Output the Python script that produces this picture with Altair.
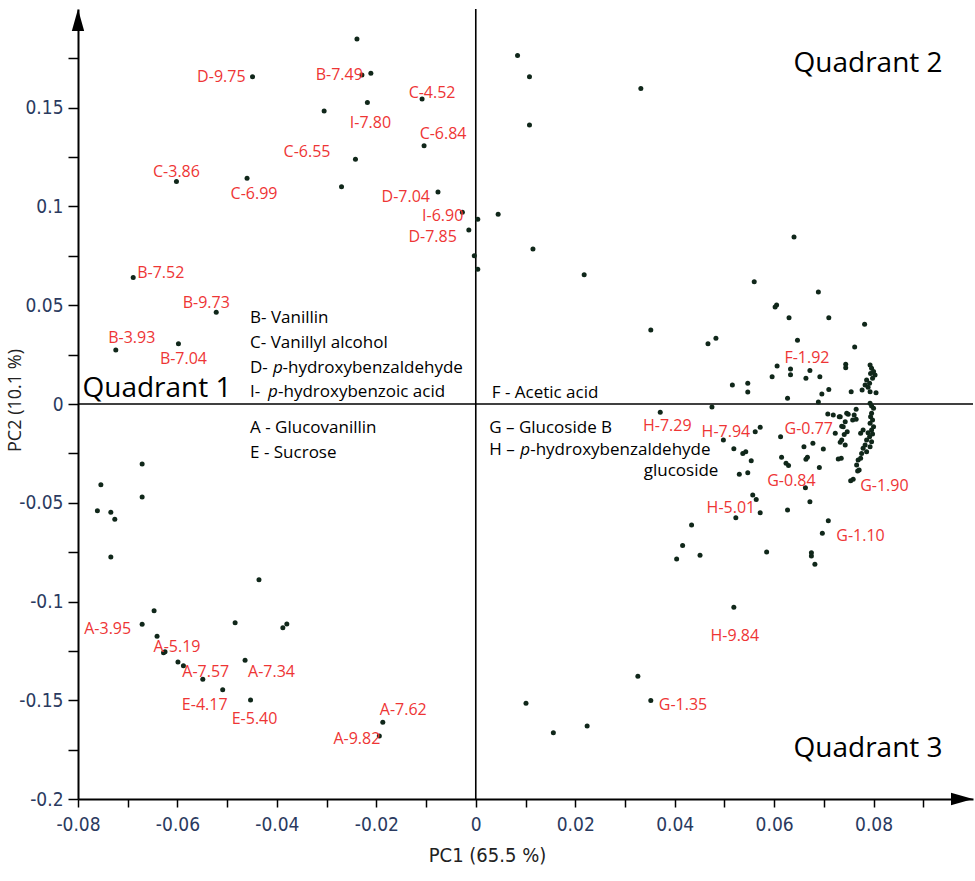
import altair as alt
import pandas as pd

# ---------------- data (PC1, PC2 scores) ----------------
LAB_NAMES = ["D-9.75", "B-7.49", "I-7.80", "C-4.52", "C-6.84", "C-6.55", "C-3.86",
             "C-6.99", "D-7.04", "I-6.90", "D-7.85", "B-7.52", "B-9.73", "B-3.93",
             "B-7.04", "F-1.92", "H-7.29", "H-7.94", "G-0.77", "G-0.84", "G-1.90",
             "H-5.01", "G-1.10", "H-9.84", "G-1.35", "A-3.95", "A-5.19", "A-7.57",
             "A-7.34", "E-4.17", "E-5.40", "A-7.62", "A-9.82"]
LAB_PC1 = [-0.0449, -0.0211, -0.0218, -0.0108, -0.0104, -0.0242, -0.0602,
           -0.0460, -0.0076, -0.0027, -0.0014, -0.0689, -0.0522, -0.0724,
           -0.0598, 0.0672, 0.0371, 0.0562, 0.0613, 0.0663, 0.0759,
           0.0572, 0.0697, 0.0519, 0.0352, -0.0671, -0.0641, -0.0549,
           -0.0464, -0.0509, -0.0453, -0.0187, -0.0194]
LAB_PC2 = [0.1657, 0.1675, 0.1526, 0.1544, 0.1308, 0.1239, 0.1126,
           0.1143, 0.1073, 0.0971, 0.0881, 0.0641, 0.0464, 0.0273,
           0.0305, 0.0169, -0.0042, -0.0140, -0.0166, -0.0424, -0.0381,
           -0.0550, -0.0655, -0.1029, -0.1501, -0.1115, -0.1176, -0.1394,
           -0.1298, -0.1447, -0.1499, -0.1612, -0.1681]

UPPER_PC1 = [-0.0239, -0.0229, -0.0305, -0.0270, 0.0004, -0.0003, 0.0004, 0.0045,
             0.0084, 0.0108, 0.0332, 0.0108, 0.0115, 0.0218, 0.0640, 0.0560, 0.0689,
             0.0352, 0.0605, 0.0602, 0.0630, 0.0710, 0.0782, 0.0483, 0.0467, 0.0647,
             0.0762, 0.0606, 0.0633, 0.0633, 0.0596, 0.0664, 0.0692, 0.0744, 0.0744,
             0.0516, 0.0547, 0.0547, 0.0710, 0.0696, 0.0755, 0.0777, 0.0627, 0.0689]
UPPER_PC2 = [0.1848, 0.1666, 0.1484, 0.1100, 0.0935, 0.0751, 0.0682, 0.0961,
             0.1764, 0.1657, 0.1597, 0.1413, 0.0785, 0.0655, 0.0846, 0.0619, 0.0567,
             0.0375, 0.0501, 0.0491, 0.0437, 0.0437, 0.0404, 0.0333, 0.0305, 0.0323,
             0.0289, 0.0192, 0.0177, 0.0148, 0.0138, 0.0130, 0.0138, 0.0201, 0.0184,
             0.0096, 0.0105, 0.0061, 0.0074, 0.0051, 0.0062, 0.0071, 0.0029, 0.0010]

COLUMN_PC1 = [0.0793, 0.0796, 0.0800, 0.0794, 0.0803, 0.0798, 0.0786, 0.0792, 0.0783,
              0.0789, 0.0793, 0.0805, 0.0793, 0.0796, 0.0800, 0.0765, 0.0746, 0.0761,
              0.0758, 0.0796, 0.0794, 0.0798, 0.0793, 0.0800, 0.0796, 0.0789, 0.0779,
              0.0774, 0.0798, 0.0792, 0.0786, 0.0796, 0.0783, 0.0779, 0.0793, 0.0776,
              0.0786, 0.0774, 0.0769, 0.0766, 0.0771, 0.0733, 0.0743, 0.0739, 0.0747,
              0.0736, 0.0743, 0.0735, 0.0754, 0.0768]
COLUMN_PC2 = [0.0197, 0.0181, 0.0164, 0.0155, 0.0147, 0.0130, 0.0122, 0.0105, 0.0096,
              0.0085, 0.0062, 0.0057, 0.0004, -0.0010, -0.0022, -0.0027, -0.0047, -0.0056,
              -0.0081, -0.0047, -0.0064, -0.0081, -0.0098, -0.0115, -0.0132, -0.0145, -0.0132,
              -0.0148, -0.0152, -0.0166, -0.0182, -0.0191, -0.0208, -0.0224, -0.0216, -0.0250,
              -0.0242, -0.0275, -0.0284, -0.0309, -0.0334, -0.0064, -0.0090, -0.0115, -0.0140,
              -0.0182, -0.0208, -0.0275, -0.0388, -0.0339]

LOWER_RIGHT_PC1 = [0.0475, 0.0708, 0.0719, 0.0731, 0.0749, 0.0765, 0.0572, 0.0736, 0.0723,
                   0.0741, 0.0733, 0.0660, 0.0678, 0.0699, 0.0498, 0.0519, 0.0537, 0.0543,
                   0.0554, 0.0530, 0.0547, 0.0615, 0.0664, 0.0667, 0.0624, 0.0629, 0.0691,
                   0.0729, 0.0557, 0.0564, 0.0523, 0.0627, 0.0672, 0.0709, 0.0434, 0.0416,
                   0.0451, 0.0404, 0.0585, 0.0675, 0.0675, 0.0682, 0.0326, 0.0101, 0.0156,
                   0.0224]
LOWER_RIGHT_PC2 = [-0.0015, -0.0051, -0.0056, -0.0064, -0.0052, -0.0077, -0.0118, -0.0113, -0.0148,
                   -0.0155, -0.0194, -0.0216, -0.0199, -0.0228, -0.0182, -0.0226, -0.0250, -0.0242,
                   -0.0287, -0.0356, -0.0348, -0.0270, -0.0280, -0.0270, -0.0300, -0.0312, -0.0321,
                   -0.0278, -0.0461, -0.0483, -0.0576, -0.0537, -0.0495, -0.0591, -0.0613, -0.0716,
                   -0.0766, -0.0785, -0.0749, -0.0753, -0.0770, -0.0812, -0.1379, -0.1515, -0.1664,
                   -0.1630]

LOWER_LEFT_PC1 = [-0.0671, -0.0754, -0.0671, -0.0761, -0.0734, -0.0726, -0.0734, -0.0436,
                  -0.0647, -0.0484, -0.0380, -0.0388, -0.0628, -0.0625, -0.0599, -0.0588]
LOWER_LEFT_PC2 = [-0.0304, -0.0409, -0.0471, -0.0540, -0.0548, -0.0584, -0.0775, -0.0890,
                  -0.1047, -0.1107, -0.1114, -0.1133, -0.1259, -0.1254, -0.1306, -0.1325]

X_TICKS = [-0.08, -0.07, -0.06, -0.05, -0.04, -0.03, -0.02, -0.01, 0, 0.01, 0.02,
           0.03, 0.04, 0.05, 0.06, 0.07, 0.08, 0.09]
Y_TICKS = [-0.2, -0.175, -0.15, -0.125, -0.1, -0.075, -0.05, -0.025, 0, 0.025, 0.05,
           0.075, 0.1, 0.125, 0.15, 0.175]
X_DOMAIN = [-0.08, 0.1]
Y_DOMAIN = [-0.2, 0.2]

# annotation texts (anchor in PC units)
LEGEND_TEXT = ["B- Vanillin", "C- Vanillyl alcohol", "A - Glucovanillin", "E - Sucrose",
               "F - Acetic acid", "G \u2013 Glucoside B"]
LEGEND_PC1 = [-0.0454, -0.0454, -0.0454, -0.0454, 0.0032, 0.0027]
LEGEND_PC2 = [0.0409, 0.0282, -0.0148, -0.0275, 0.0029, -0.0145]

QUAD_TEXT = ["Quadrant 1", "Quadrant 2", "Quadrant 3"]
QUAD_PC1 = [-0.0791, 0.0639, 0.0639]
QUAD_PC2 = [0.0035, 0.1681, -0.1786]

# ---------------- styles / layout ----------------
RED = "#ee3535"
DOT = "#10271a"
FONT = "Open Sans"
NARROW = "Liberation Sans Narrow, DejaVu Sans Condensed, Liberation Sans"
TICK_COL = "#2a3a60"

LABEL_PLACE = {
    "D-9.75": ("right", -7, 0), "B-7.49": ("right", -8, 2), "I-7.80": ("center", 3, 20),
    "C-4.52": ("center", 10, -6), "C-6.84": ("center", 19, -12), "C-6.55": ("right", -25, -7),
    "C-3.86": ("center", 0, -10), "C-6.99": ("center", 7, 16), "D-7.04": ("right", -8, 5),
    "I-6.90": ("right", 1, 4), "D-7.85": ("right", -12, 7), "B-7.52": ("left", 4, -4),
    "B-9.73": ("center", -10, -9), "B-3.93": ("center", 16, -12), "B-7.04": ("center", 5, 15),
    "F-1.92": ("center", -3, -13), "H-7.29": ("center", 7, 14), "H-7.94": ("right", -5, 0),
    "G-0.77": ("left", 4, -8), "G-0.84": ("center", -14, -7), "G-1.90": ("left", 7, 7),
    "H-5.01": ("right", -5, -5), "G-1.10": ("left", 14, 3), "H-9.84": ("center", 1, 29),
    "G-1.35": ("left", 8, 5), "A-3.95": ("right", -11, 5), "A-5.19": ("center", 20, 11),
    "A-7.57": ("center", 3, -7), "A-7.34": ("left", 3, 12), "E-4.17": ("center", -18, 15),
    "E-5.40": ("center", 4, 19), "A-7.62": ("left", -3, -12), "A-9.82": ("right", 1, 3),
}

xaxis = alt.Axis(
    values=X_TICKS,
    labelExpr="round(datum.value*100) % 2 == 0 ? '' + datum.value : ''",
    grid=False, tickSize=8, tickWidth=1.5, tickColor="black",
    domainColor="black", domainWidth=2,
    labelFont=NARROW, labelFontSize=19, labelColor=TICK_COL, labelPadding=8,
    labelOverlap=False, labelFlush=False,
    title="PC1 (65.5 %)", titleFont=NARROW, titleFontSize=20, titleFontWeight="normal",
    titleColor="#222222", titleX=409, titleY=56, titleAlign="center", titleBaseline="middle",
)
yaxis = alt.Axis(
    values=Y_TICKS,
    labelExpr="round(datum.value*1000) % 50 == 0 ? '' + datum.value : ''",
    grid=False, tickSize=10, tickWidth=1.5, tickColor="black",
    domainColor="black", domainWidth=2,
    labelFont=NARROW, labelFontSize=19, labelColor=TICK_COL, labelPadding=5,
    labelOverlap=False, labelFlush=False,
    title="PC2 (10.1 %)", titleFont=FONT, titleFontSize=18, titleFontWeight="normal",
    titleColor="#222222", titleAngle=-90, titleX=-63, titleY=391,
    titleAlign="center", titleBaseline="middle",
)
xs = alt.Scale(domain=X_DOMAIN, nice=False, zero=False)
ys = alt.Scale(domain=Y_DOMAIN, nice=False, zero=False)


def X(field="pc1"):
    return alt.X(field, type="quantitative", scale=xs, axis=xaxis)


def Y(field="pc2"):
    return alt.Y(field, type="quantitative", scale=ys, axis=yaxis)


# ---------------- tables ----------------
labeled = pd.DataFrame({"pc1": LAB_PC1, "pc2": LAB_PC2, "label": LAB_NAMES})
others = pd.DataFrame({
    "pc1": UPPER_PC1 + COLUMN_PC1 + LOWER_RIGHT_PC1 + LOWER_LEFT_PC1,
    "pc2": UPPER_PC2 + COLUMN_PC2 + LOWER_RIGHT_PC2 + LOWER_LEFT_PC2,
})
points = pd.concat([labeled[["pc1", "pc2"]], others], ignore_index=True)

vline = pd.DataFrame({"pc1": [0], "pc2": [Y_DOMAIN[0]], "pc2_end": [Y_DOMAIN[1]]})
hline = pd.DataFrame({"pc1": [X_DOMAIN[0]], "pc1_end": [X_DOMAIN[1]], "pc2": [0]})
up_arrow = pd.DataFrame({"pc1": [X_DOMAIN[0]], "pc2": [Y_DOMAIN[1]]})
right_arrow = pd.DataFrame({"pc1": [X_DOMAIN[1]], "pc2": [Y_DOMAIN[0]]})

layers = []

layers.append(alt.Chart(vline).mark_rule(color="black", strokeWidth=1.6).encode(
    x=X(), y=Y(), y2="pc2_end"))
layers.append(alt.Chart(hline).mark_rule(color="black", strokeWidth=1.6).encode(
    x=X(), x2="pc1_end", y=Y()))

layers.append(alt.Chart(up_arrow).mark_point(
    shape="M0,0L-0.28,1L0.28,1Z", size=1936, filled=True, color="black", opacity=1
).encode(x=X(), y=Y()))
layers.append(alt.Chart(right_arrow).mark_point(
    shape="M0,0L-1,-0.28L-1,0.28Z", size=1936, filled=True, color="black", opacity=1
).encode(x=X(), y=Y()))

layers.append(alt.Chart(points).mark_circle(size=25, color=DOT, opacity=1).encode(
    x=X(), y=Y()))

for name in LAB_NAMES:
    align, dx, dy = LABEL_PLACE[name]
    layers.append(
        alt.Chart(labeled).transform_filter(alt.datum.label == name).mark_text(
            align=align, baseline="middle", dx=dx, dy=dy,
            font=FONT, fontSize=16, color=RED,
        ).encode(x=X(), y=Y(), text="label:N")
    )

legend_df = pd.DataFrame({"pc1": LEGEND_PC1, "pc2": LEGEND_PC2, "txt": LEGEND_TEXT})
layers.append(alt.Chart(legend_df).mark_text(
    align="left", baseline="alphabetic", font=FONT, fontSize=17, color="black"
).encode(x=X(), y=Y(), text="txt:N"))

# texts with an italic "p"
ITALIC_ROWS = [
    ("D- ", "-hydroxybenzaldehyde", -0.0454, 0.0159, 23, 32.5),
    ("I-  ", "-hydroxybenzoic acid", -0.0454, 0.0034, 18, 28),
    ("H \u2013 ", "-hydroxybenzaldehyde", 0.0027, -0.0258, 31, 41),
]
for head, tail, px, py, dxp, dxt in ITALIC_ROWS:
    d = pd.DataFrame({"pc1": [px], "pc2": [py], "head": [head], "p": ["p"], "tail": [tail]})
    base = alt.Chart(d)
    layers.append(base.mark_text(align="left", baseline="alphabetic", font=FONT,
                                 fontSize=17, color="black").encode(x=X(), y=Y(), text="head:N"))
    layers.append(base.mark_text(align="left", baseline="alphabetic", font=FONT,
                                 fontSize=17, fontStyle="italic", color="black", dx=dxp
                                 ).encode(x=X(), y=Y(), text="p:N"))
    layers.append(base.mark_text(align="left", baseline="alphabetic", font=FONT,
                                 fontSize=17, color="black", dx=dxt
                                 ).encode(x=X(), y=Y(), text="tail:N"))

gl = pd.DataFrame({"pc1": [0.0488], "pc2": [-0.0365], "txt": ["glucoside"]})
layers.append(alt.Chart(gl).mark_text(
    align="right", baseline="alphabetic", font=FONT, fontSize=17, color="black"
).encode(x=X(), y=Y(), text="txt:N"))

quad_df = pd.DataFrame({"pc1": QUAD_PC1, "pc2": QUAD_PC2, "txt": QUAD_TEXT})
layers.append(alt.Chart(quad_df).mark_text(
    align="left", baseline="alphabetic", font=FONT, fontSize=28, color="black"
).encode(x=X(), y=Y(), text="txt:N"))

chart = alt.layer(*layers).properties(
    width=895, height=790,
    padding={"left": 78, "top": 9, "right": 2, "bottom": 82},
    autosize=alt.AutoSizeParams(type="none"),
    background="white",
).configure_view(stroke=None)

chart.save("out.html", embed_options={"renderer": "svg", "actions": False})
